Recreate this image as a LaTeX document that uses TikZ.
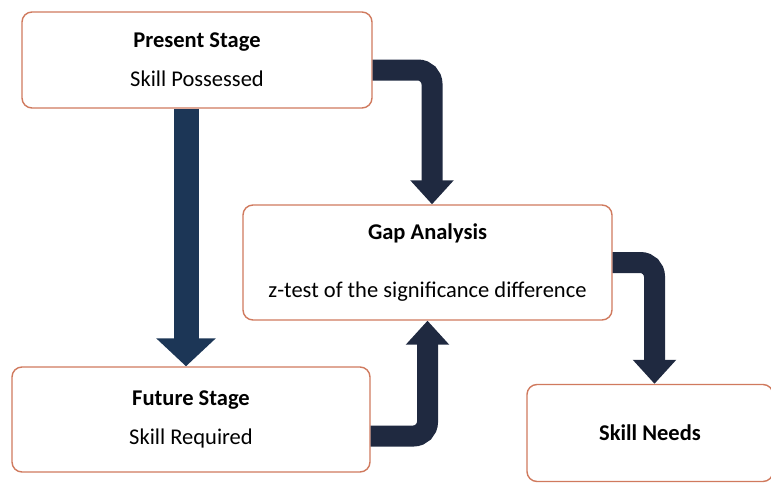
\documentclass[tikz,border=0pt]{standalone}
\usepackage{fontspec}
\setmainfont{Carlito}
\usetikzlibrary{arrows.meta}
\definecolor{boxline}{HTML}{D07A5E}
\definecolor{arrowfill}{HTML}{1F2940}
\definecolor{arrowblue}{HTML}{1C3656}

\begin{document}
\begin{tikzpicture}[x = 1pt, y = -1pt,
    stage/.style = {draw = boxline, line width = 1.4pt, rounded corners = 10pt, fill = white,
                    align = center, font = \fontsize{22.5}{20}\selectfont},
    flow/.style = {draw = arrowfill, line width = 21pt, rounded corners = 14pt,
                   -{Triangle[width = 42pt, length = 24pt]}}]
    \useasboundingbox (0, 0) rectangle (771, 482);
    \node (present) at (197,  60) [stage, minimum width = 350pt, minimum height = 96pt]  {\textbf{Present Stage}\\[19pt]Skill Possessed};
    \node (gap)     at (427.5, 262.5) [stage, minimum width = 369pt, minimum height = 115pt] {\textbf{Gap Analysis}\\[38pt]z-test of the significance difference};
    \node (future)  at (191, 419.5) [stage, minimum width = 358pt, minimum height = 105pt] {\textbf{Future Stage}\\[19pt]Skill Required};
    \node (needs)   at (650, 433) [stage, minimum width = 246pt, minimum height = 97pt]  {\textbf{Skill Needs}};
    \draw [flow, draw = arrowblue, line width = 25pt, -{Triangle[width = 58pt, length = 28pt]}]
        ([xshift = -11pt]present.south) -- ([xshift = -11pt]present.south |- future.north);
    \draw [flow] ([yshift = -10pt]present.east) -| ([xshift = 4.5pt]gap.north);
    \draw [flow] ([yshift = -16.5pt]future.east) -| (gap.south);
    \draw [flow] (gap.east) -| ([xshift = 4.5pt]needs.north);
\end{tikzpicture}
\end{document}
